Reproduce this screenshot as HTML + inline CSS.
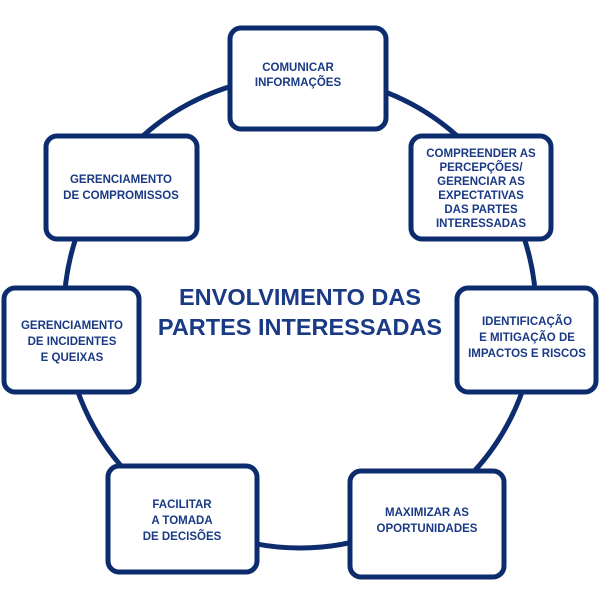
<!DOCTYPE html>
<html><head><meta charset="utf-8"><style>
body{margin:0;background:#fff}
svg text{font-family:"Liberation Sans",sans-serif;font-weight:bold;fill:#1a3a85;text-anchor:middle}
.b{fill:#fff;stroke:#0d2c6e;stroke-width:5}
.s{font-size:11.5px}
</style></head><body>
<svg width="600" height="600" viewBox="0 0 600 600">
<circle cx="300" cy="312" r="236" fill="none" stroke="#0d2c6e" stroke-width="5"/>
<rect class="b" x="230" y="28" width="156" height="101" rx="11"/>
<rect class="b" x="411" y="136" width="140" height="103" rx="11"/>
<rect class="b" x="457" y="288" width="139" height="104" rx="11"/>
<rect class="b" x="350" y="471" width="154" height="106" rx="11"/>
<rect class="b" x="108" y="466" width="149" height="106" rx="11"/>
<rect class="b" x="4" y="288" width="135" height="104" rx="11"/>
<rect class="b" x="46" y="136" width="151" height="103" rx="11"/>
<text x="300" y="305" style="font-size:23.5px">ENVOLVIMENTO DAS</text>
<text x="300" y="335" style="font-size:23.5px">PARTES INTERESSADAS</text>
<text class="s" x="298" y="71">COMUNICAR</text>
<text class="s" x="298" y="86">INFORMAÇÕES</text>
<text class="s" x="481" y="157">COMPREENDER AS</text>
<text class="s" x="481" y="171">PERCEPÇÕES/</text>
<text class="s" x="481" y="185">GERENCIAR AS</text>
<text class="s" x="481" y="199">EXPECTATIVAS</text>
<text class="s" x="481" y="213">DAS PARTES</text>
<text class="s" x="481" y="227">INTERESSADAS</text>
<text class="s" x="527" y="325">IDENTIFICAÇÃO</text>
<text class="s" x="527" y="341">E MITIGAÇÃO DE</text>
<text class="s" x="527" y="357">IMPACTOS E RISCOS</text>
<text class="s" x="427" y="516">MAXIMIZAR AS</text>
<text class="s" x="427" y="532">OPORTUNIDADES</text>
<text class="s" x="182" y="508">FACILITAR</text>
<text class="s" x="182" y="524">A TOMADA</text>
<text class="s" x="182" y="540">DE DECISÕES</text>
<text class="s" x="72" y="329">GERENCIAMENTO</text>
<text class="s" x="72" y="345">DE INCIDENTES</text>
<text class="s" x="72" y="361">E QUEIXAS</text>
<text class="s" x="121" y="183">GERENCIAMENTO</text>
<text class="s" x="121" y="199">DE COMPROMISSOS</text>
</svg>
</body></html>
